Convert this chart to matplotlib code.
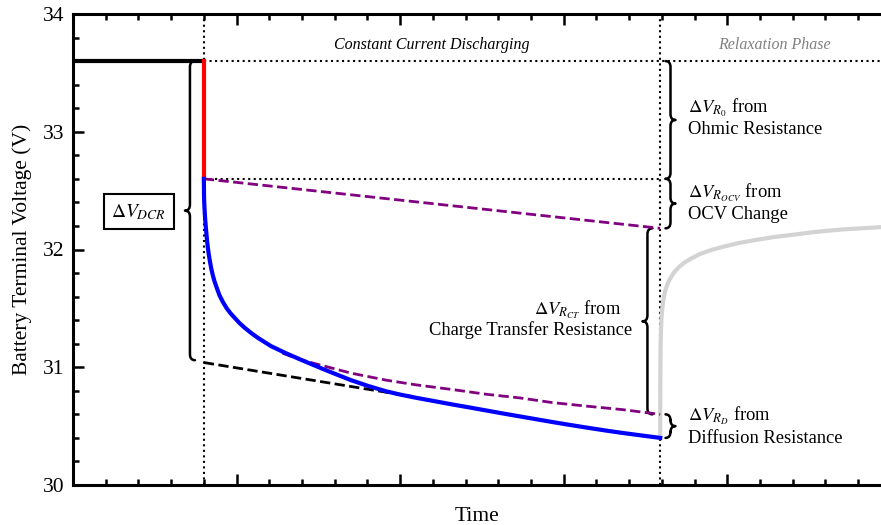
import numpy as np
import matplotlib
matplotlib.use("Agg")
import matplotlib.pyplot as plt
from matplotlib.path import Path
from matplotlib.patches import PathPatch
from matplotlib.ticker import MultipleLocator, NullFormatter

plt.rcParams["font.family"] = ["Liberation Serif", "DejaVu Serif"]
plt.rcParams["mathtext.fontset"] = "stix"

# phase boundaries (time, arbitrary units)
t_start = 0.80
t_end = 3.59
t_max = 4.94

# voltage levels (V)
v_rest = 33.60
v_after_ohmic = 32.60
v_ocv_end = 32.18
v_diff_start = 30.60
v_final = 30.40
v_dcr_bottom = 31.05

# discharge curve
t_blue = [0.800, 0.801, 0.802, 0.804, 0.806, 0.808, 0.812, 0.816, 0.820, 0.825,
          0.830, 0.837, 0.845, 0.855, 0.865, 0.880, 0.896, 0.916, 0.940, 0.962,
          0.988, 1.018, 1.050, 1.090, 1.130, 1.170, 1.210, 1.255, 1.300, 1.350,
          1.400, 1.460, 1.520, 1.600, 1.700, 1.800, 1.916, 2.000, 2.100, 2.210,
          2.323, 2.430, 2.530, 2.630, 2.730, 2.830, 2.930, 3.030, 3.138, 3.250,
          3.360, 3.480, 3.590]
v_blue = [32.600, 32.470, 32.410, 32.350, 32.300, 32.260, 32.190, 32.130, 32.070, 32.010,
          31.960, 31.900, 31.840, 31.780, 31.730, 31.670, 31.610, 31.555, 31.500, 31.460,
          31.420, 31.375, 31.335, 31.290, 31.250, 31.215, 31.180, 31.150, 31.120, 31.090,
          31.060, 31.025, 30.990, 30.945, 30.890, 30.843, 30.795, 30.768, 30.740, 30.712,
          30.683, 30.657, 30.632, 30.607, 30.583, 30.559, 30.535, 30.512, 30.488, 30.464,
          30.442, 30.420, 30.400]

# curve without diffusion contribution
t_purple = [1.28, 1.40, 1.509, 1.70, 1.916, 2.10, 2.323, 2.53, 2.73, 2.93, 3.138, 3.36, 3.59]
v_purple = [31.12, 31.06, 31.02, 30.95, 30.89, 30.85, 30.81, 30.77, 30.74, 30.70, 30.67, 30.64, 30.60]

# extrapolated DCR line
t_dcr = [0.80, 2.06]
v_dcr = [31.04, 30.755]

# relaxation after current stops
t_relax = [3.5900, 3.5905, 3.591, 3.592, 3.593, 3.595, 3.598, 3.602, 3.607, 3.613,
           3.620, 3.630, 3.642, 3.656, 3.672, 3.690, 3.712, 3.740, 3.775, 3.830,
           3.900, 3.980, 4.070, 4.170, 4.280, 4.400, 4.543, 4.700, 4.940]
v_relax = [30.40, 30.70, 30.90, 31.08, 31.20, 31.32, 31.42, 31.49, 31.55, 31.60,
           31.645, 31.69, 31.73, 31.765, 31.80, 31.83, 31.86, 31.89, 31.92, 31.96,
           31.995, 32.025, 32.055, 32.08, 32.105, 32.125, 32.15, 32.17, 32.19]

PX_X = 163.7   # pixels per time unit
PX_Y = 117.75  # pixels per volt


def brace(ax, x, y0, y1, direction, depth=5, r=6, lw=1.8):
    """Curly brace along a vertical span; direction=+1 puts the tip on the right."""
    dx = depth / PX_X * direction
    ry = r / PX_Y
    ym = (y0 + y1) / 2
    verts = [(x - dx, y0),
             (x, y0), (x, y0 + ry),
             (x, ym - ry),
             (x, ym), (x + dx, ym),
             (x, ym), (x, ym + ry),
             (x, y1 - ry),
             (x, y1), (x - dx, y1)]
    codes = [Path.MOVETO,
             Path.CURVE3, Path.CURVE3,
             Path.LINETO,
             Path.CURVE3, Path.CURVE3,
             Path.CURVE3, Path.CURVE3,
             Path.LINETO,
             Path.CURVE3, Path.CURVE3]
    ax.add_patch(PathPatch(Path(verts, codes), fill=False, lw=lw, color="black",
                           capstyle="round", joinstyle="round"))


fig = plt.figure(figsize=(8.81, 5.25), dpi=100)
ax = fig.add_axes([73 / 881, 40 / 525, 808 / 881, 471 / 525])

# guide lines
ax.axvline(t_start, color="black", ls=":", lw=1.5)
ax.axvline(t_end, color="black", ls=":", lw=1.5)
ax.plot([t_start, t_max], [v_rest, v_rest], color="black", ls=":", lw=1.5)
ax.plot([t_start, t_end], [v_after_ohmic, v_after_ohmic], color="black", ls=":", lw=1.5)

# rest, ohmic drop, discharge
ax.plot([0, t_start], [v_rest, v_rest], color="black", lw=3, solid_capstyle="butt", zorder=4)
ax.plot([t_start, t_start], [v_rest, v_after_ohmic], color="red", lw=3, zorder=4)
ax.plot(t_dcr, v_dcr, color="black", ls="--", lw=2, zorder=3)
ax.plot([t_start, t_end], [v_after_ohmic, v_ocv_end], color="purple", ls="--", lw=2, zorder=3)
ax.plot(t_purple, v_purple, color="purple", ls="--", lw=2, zorder=3)
ax.plot(t_relax, v_relax, color="lightgray", lw=3, zorder=2, solid_joinstyle="round")
ax.plot(t_blue, v_blue, color="blue", lw=3, zorder=5, solid_joinstyle="round")

# braces
brace(ax, 0.715, v_dcr_bottom + 0.01, v_rest, -1)
brace(ax, 3.653, v_after_ohmic, v_rest, 1)
brace(ax, 3.653, v_ocv_end, v_after_ohmic, 1)
brace(ax, 3.512, v_diff_start, v_ocv_end, -1)
brace(ax, 3.653, v_final, v_diff_start, 1)

# annotations
fs = 13.3
ax.text(0.403, 32.32, r"$\Delta V_{DCR}$", fontsize=14, ha="center", va="center",
        bbox=dict(boxstyle="square,pad=0.4", fc="white", ec="black", lw=1.5))
ax.text(3.757, 33.12, "$\\Delta V_{R_0}$ from\nOhmic Resistance", fontsize=fs,
        ha="left", va="center")
ax.text(3.757, 32.40, "$\\Delta V_{R_{OCV}}$ from\nOCV Change", fontsize=fs,
        ha="left", va="center")
ax.text(3.085, 31.49, "$\\Delta V_{R_{CT}}$ from", fontsize=fs, ha="center", va="center")
ax.text(3.42, 31.32, "Charge Transfer Resistance", fontsize=fs, ha="right", va="center")
ax.text(3.757, 30.50, "$\\Delta V_{R_D}$ from\nDiffusion Resistance", fontsize=fs,
        ha="left", va="center")
ax.text((t_start + t_end) / 2, 33.74, "Constant Current Discharging", fontsize=11.5,
        style="italic", ha="center", va="center")
ax.text(4.29, 33.74, "Relaxation Phase", fontsize=11.5, style="italic",
        color="gray", ha="center", va="center")

# axes styling
ax.set_xlim(0, t_max)
ax.set_ylim(30, 34)
ax.xaxis.set_major_locator(MultipleLocator(1))
ax.xaxis.set_minor_locator(MultipleLocator(0.2))
ax.yaxis.set_major_locator(MultipleLocator(1))
ax.yaxis.set_minor_locator(MultipleLocator(0.2))
ax.xaxis.set_major_formatter(NullFormatter())
ax.tick_params(which="both", direction="in", top=True, right=False, width=1.8)
ax.tick_params(which="major", length=8, labelsize=15.5, pad=6)
ax.tick_params(which="minor", length=4.5)
ax.spines["right"].set_visible(False)
for side in ["left", "top", "bottom"]:
    ax.spines[side].set_linewidth(2.2)
ax.set_xlabel("Time", fontsize=15.5, labelpad=10)
ax.set_ylabel("Battery Terminal Voltage (V)", fontsize=15.5, labelpad=8)

fig.savefig("out.png", dpi=100)
